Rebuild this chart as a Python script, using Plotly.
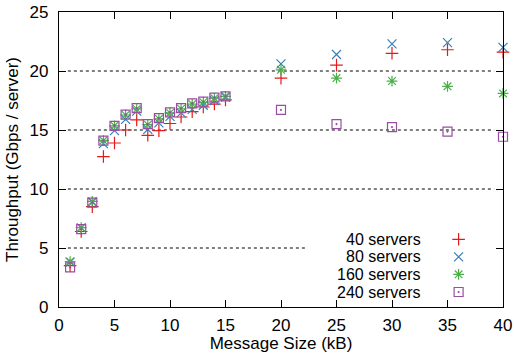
import plotly.graph_objects as go

sizes = [1, 2, 3, 4, 5, 6, 7, 8, 9, 10, 11, 12, 13, 14, 15, 20, 25, 30, 35, 40]
s40 = [3.5, 6.4, 8.5, 12.75, 13.9, 15.0, 15.85, 14.55, 14.95, 15.55, 16.1, 16.55, 16.95, 17.2, 17.55, 19.4, 20.5, 21.5, 21.8, 21.6]
s80 = [3.8, 6.7, 8.9, 13.85, 14.95, 15.9, 16.6, 15.05, 15.6, 16.15, 16.45, 16.75, 17.1, 17.5, 17.8, 20.6, 21.4, 22.3, 22.4, 22.0]
s160 = [3.85, 6.72, 8.95, 14.1, 15.35, 16.27, 16.78, 15.45, 15.95, 16.45, 16.8, 17.2, 17.35, 17.7, 17.85, 20.1, 19.4, 19.15, 18.7, 18.1]
s240 = [3.36, 6.6, 8.85, 14.1, 15.35, 16.3, 16.85, 15.5, 16.0, 16.5, 16.85, 17.25, 17.4, 17.75, 17.85, 16.7, 15.5, 15.25, 14.86, 14.43]
names = ["40 servers", "80 servers", "160 servers", "240 servers"]
series = [s40, s80, s160, s240]
colors = ["#e41a1c", "#377eb8", "#4daf4a", "#984ea3"]
symbols = ["cross-thin-open", "x-thin-open", "asterisk-open", "square-open-dot"]
msizes = [9, 9, 9, 9]
y_ticks = [0, 5, 10, 15, 20, 25]
x_ticks = [0, 5, 10, 15, 20, 25, 30, 35, 40]
grid_y = [5, 10, 15, 20]
grid_end = [22.4, 39.2, 39.2, 39.2]

FONT = "Liberation Sans"
fig = go.Figure()
for n, s, c, sym, ms in zip(names, series, colors, symbols, msizes):
    fig.add_trace(go.Scatter(x=sizes, y=s, mode="markers", name=n, showlegend=False,
                             cliponaxis=False,
                             marker=dict(symbol=sym, color=c, size=ms,
                                         line=dict(color=c, width=1.2))))

# custom gnuplot-style key: text on the left, symbol on the right
key_text_x = 0.819
key_mark_x = 0.900
key_rows = [0.2295, 0.170, 0.1108, 0.0508]
annotations = []
for n, c, sym, ms, ky in zip(names, colors, symbols, msizes, key_rows):
    annotations.append(dict(x=key_text_x, y=ky, xref="paper", yref="paper", text=n,
                            showarrow=False, xanchor="right", yanchor="middle",
                            font=dict(family=FONT, size=16, color="black")))
    fig.add_trace(go.Scatter(x=[key_mark_x], y=[ky], xaxis="x2", yaxis="y2", mode="markers",
                             showlegend=False, hoverinfo="skip",
                             marker=dict(symbol=sym, color=c, size=ms,
                                         line=dict(color=c, width=1.2))))

shapes = []
for gy, ge in zip(grid_y, grid_end):
    shapes.append(dict(type="line", xref="x", yref="y", x0=0.8, x1=ge,
                       y0=gy, y1=gy, line=dict(color="black", width=1, dash="dot"), layer="below"))

axis_common = dict(showline=True, linecolor="black", linewidth=1.2, mirror="ticks",
                   ticks="inside", ticklen=7, tickcolor="black", tickwidth=1,
                   showgrid=False, zeroline=False, automargin=False,
                   tickfont=dict(family=FONT, size=17, color="black"))

fig.update_layout(
    width=514, height=358,
    margin=dict(l=59, r=11, t=12, b=51),
    plot_bgcolor="white", paper_bgcolor="white",
    font=dict(family=FONT, size=17, color="black"),
    xaxis=dict(range=[0, 40], tickvals=x_ticks, ticklabelstandoff=2,
               title=dict(text="Message Size (kB)", standoff=1,
                          font=dict(family=FONT, size=17)), **axis_common),
    yaxis=dict(range=[0, 25], tickvals=y_ticks, ticklabelstandoff=6,
               title=dict(text="Throughput (Gbps / server)", standoff=6,
                          font=dict(family=FONT, size=17)), **axis_common),
    xaxis2=dict(range=[0, 1], overlaying="x", visible=False, fixedrange=True),
    yaxis2=dict(range=[0, 1], overlaying="y", visible=False, fixedrange=True),
    shapes=shapes, annotations=annotations, showlegend=False,
)
fig.write_html("out.html", config={"displayModeBar": False},
               post_script="document.body.style.margin='0';document.body.style.overflow='hidden';")
